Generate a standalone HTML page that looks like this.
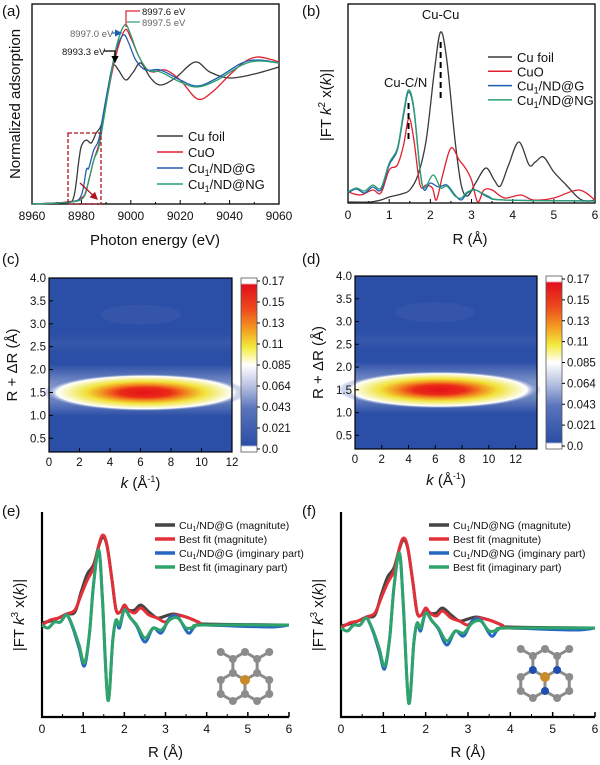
<!DOCTYPE html>
<html><head><meta charset="utf-8">
<style>
body{margin:0;background:#fff;}
svg{display:block;font-family:"Liberation Sans",Arial,sans-serif;}
</style></head><body>
<svg id="s" width="600" height="765" viewBox="0 0 600 765" xmlns="http://www.w3.org/2000/svg">
<defs>
<radialGradient id="hm" cx="0.5" cy="0.5" r="0.5">
<stop offset="0" stop-color="#e5101a"/>
<stop offset="0.25" stop-color="#ea2a18"/>
<stop offset="0.42" stop-color="#f29020"/>
<stop offset="0.58" stop-color="#f2e238"/>
<stop offset="0.74" stop-color="#f6f3a8"/>
<stop offset="0.86" stop-color="#ffffff"/>
<stop offset="1" stop-color="#2b4ea6" stop-opacity="0"/>
</radialGradient>
<linearGradient id="cb" x1="0" y1="0" x2="0" y2="1">
<stop offset="0" stop-color="#ffffff"/>
<stop offset="0.03" stop-color="#ffffff"/>
<stop offset="0.04" stop-color="#e0101c"/>
<stop offset="0.18" stop-color="#ee4a1c"/>
<stop offset="0.3" stop-color="#f3a020"/>
<stop offset="0.4" stop-color="#f4ec40"/>
<stop offset="0.5" stop-color="#ffffff"/>
<stop offset="0.62" stop-color="#b8c2e2"/>
<stop offset="0.75" stop-color="#5a74bc"/>
<stop offset="0.96" stop-color="#2b4ea6"/>
<stop offset="0.97" stop-color="#ffffff"/>
<stop offset="1" stop-color="#ffffff"/>
</linearGradient>
<linearGradient id="band" x1="0" y1="0" x2="0" y2="1">
<stop offset="0" stop-color="#ffffff" stop-opacity="0"/>
<stop offset="0.5" stop-color="#ffffff" stop-opacity="0.9"/>
<stop offset="1" stop-color="#ffffff" stop-opacity="0"/>
</linearGradient>
<marker id="ah" markerWidth="6" markerHeight="6" refX="5" refY="3" orient="auto"><path d="M0,0 L6,3 L0,6z" fill="#b01020"/></marker>
<marker id="ak" markerWidth="6" markerHeight="6" refX="5" refY="3" orient="auto"><path d="M0,0 L6,3 L0,6z" fill="#000"/></marker>
<marker id="ab" markerWidth="6" markerHeight="6" refX="5" refY="3" orient="auto"><path d="M0,0 L6,3 L0,6z" fill="#1f5fb0"/></marker>
</defs>
<g id="g"></g>
</svg>
<script>
var g=document.getElementById('g');var NS='http://www.w3.org/2000/svg';
function el(t,a,txt){var e=document.createElementNS(NS,t);for(var k in a)e.setAttribute(k,a[k]);if(txt!==undefined)e.textContent=txt;g.appendChild(e);return e;}
function cr(p){var d='M'+p[0][0].toFixed(1)+','+p[0][1].toFixed(1);for(var i=0;i<p.length-1;i++){var p0=p[i-1]||p[i],p1=p[i],p2=p[i+1],p3=p[i+2]||p2;var c1=[p1[0]+(p2[0]-p0[0])/6,p1[1]+(p2[1]-p0[1])/6],c2=[p2[0]-(p3[0]-p1[0])/6,p2[1]-(p3[1]-p1[1])/6];d+='C'+c1[0].toFixed(1)+','+c1[1].toFixed(1)+' '+c2[0].toFixed(1)+','+c2[1].toFixed(1)+' '+p2[0].toFixed(1)+','+p2[1].toFixed(1);}return d;}
function curve(pts,fx,dy,col,w){el('path',{d:cr(pts.map(function(q){return [fx(q[0]),q[1]+dy];})),fill:'none',stroke:col,'stroke-width':w,'stroke-linejoin':'round'});}
function txt(x,y,s,sz,anc,extra){var a={x:x,y:y,'font-size':sz,'text-anchor':anc||'start',fill:'#111'};for(var k in extra)a[k]=extra[k];var e=el('text',a);e.innerHTML=s;return e;}
var BK='#3a3a3a',RD='#e02030',BL='#1f5fb0',GR='#2aa070';
[['(a)',2,16],['(b)',302,16],['(c)',2,264],['(d)',302,264],['(e)',2,516],['(f)',302,516]].forEach(function(a){txt(a[1],a[2],a[0],15);});

// ===== (a)
var ax=function(e){return 32+(e-8960)*2.47;};
el('rect',{x:32,y:4,width:247,height:200,fill:'none',stroke:'#000','stroke-width':1.3});
for(var e=8960;e<=9060;e+=20){var x=ax(e);el('line',{x1:x,y1:204,x2:x,y2:200,stroke:'#000'});txt(x,220,e,12,'middle');}
for(var e=8970;e<9060;e+=20){var x=ax(e);el('line',{x1:x,y1:204,x2:x,y2:202,stroke:'#000'});}
txt(155,245,'Photon energy (eV)',15,'middle');
txt(0,0,'Normalized adsorption',15,'middle',{transform:'translate(20,104) rotate(-90)'});
curve([[8960,204],[8974,202],[8977,196],[8979,160],[8980,146],[8982,140],[8984,143],[8986,133],[8988,125],[8990,100],[8992,72],[8993.3,65],[8995,70],[8998,80],[9001,72],[9004,63],[9008,78],[9012,85],[9018,78],[9026,62],[9032,72],[9040,78],[9050,74],[9060,67]],ax,0,BK,1.3);
curve([[8960,204],[8975,202],[8980,198],[8982,190],[8985,160],[8987,145],[8989,118],[8991,90],[8994,55],[8997.6,30],[9000,38],[9003,55],[9006,68],[9009,72],[9014,70],[9020,80],[9027,99],[9033,92],[9040,75],[9046,62],[9051,57],[9056,59],[9060,62]],ax,0,RD,1.3);
curve([[8960,204],[8976,202],[8980,195],[8982,170],[8983,168],[8985,150],[8987,140],[8989,112],[8991,85],[8994,50],[8997,35],[8999,42],[9002,60],[9006,70],[9012,70],[9020,80],[9027,86],[9035,78],[9045,63],[9052,60],[9060,63]],ax,0,BL,1.3);
curve([[8960,204],[8976,202],[8981,197],[8983,180],[8985,160],[8987,148],[8989,120],[8991,90],[8994,48],[8997.5,25],[9000,35],[9003,55],[9007,70],[9012,72],[9020,82],[9027,87],[9035,80],[9045,65],[9052,61],[9060,63]],ax,0,GR,1.3);
el('rect',{x:68,y:133,width:33,height:71,fill:'none',stroke:'#b01020','stroke-width':1.3,'stroke-dasharray':'4,2'});
el('line',{x1:80,y1:183,x2:97,y2:199,stroke:'#b01020','stroke-width':1.3,'marker-end':'url(#ah)'});
el('polyline',{points:'126,27 126,11 140,11',fill:'none',stroke:RD,'stroke-width':1.2});
txt(142,15,'8997.6 eV',9.5);
el('line',{x1:127,y1:22,x2:140,y2:22,stroke:GR,'stroke-width':1.2});
txt(142,26,'8997.5 eV',9.5,'start',{fill:'#666'});
txt(70,37,'8997.0 eV',9.5,'start',{fill:'#666'});
el('line',{x1:112,y1:33,x2:121,y2:33,stroke:BL,'stroke-width':1.2,'marker-end':'url(#ab)'});
txt(62,55,'8993.3 eV',9.5);
el('polyline',{points:'104,51 115,51 115,62',fill:'none',stroke:'#000','stroke-width':1.2,'marker-end':'url(#ak)'});
[['Cu foil',BK],['CuO',RD],['Cu<tspan font-size="9" dy="3">1</tspan><tspan dy="-3">/ND@G</tspan>',BL],['Cu<tspan font-size="9" dy="3">1</tspan><tspan dy="-3">/ND@NG</tspan>',GR]].forEach(function(l,i){var y=136+i*16;el('line',{x1:157,y1:y,x2:183,y2:y,stroke:l[1],'stroke-width':1.5});txt(188,y+5,l[0],13);});

// ===== (b)
var bx=function(r){return 348+r*41.17;};
el('rect',{x:348,y:4,width:247,height:199,fill:'none',stroke:'#000','stroke-width':1.3});
for(var r=0;r<=6;r++){var x=bx(r);el('line',{x1:x,y1:203,x2:x,y2:199,stroke:'#000'});txt(x,219,r,12,'middle');}
for(var r=0.5;r<6;r++){var x=bx(r);el('line',{x1:x,y1:203,x2:x,y2:201,stroke:'#000'});}
txt(470,244,'R (Å)',15,'middle');
txt(0,0,'|FT <tspan font-style="italic">k</tspan><tspan font-size="10" dy="-6">2</tspan><tspan dy="6"> x(</tspan><tspan font-style="italic">k</tspan>)|',15,'middle',{transform:'translate(331,105) rotate(-90)'});
curve([[0,202],[0.5,202],[0.8,200],[1.0,197],[1.3,194],[1.5,190],[1.7,175],[1.9,140],[2.1,70],[2.25,32],[2.4,60],[2.6,140],[2.75,185],[2.9,196],[3.1,183],[3.35,168],[3.55,180],[3.7,186],[3.9,165],[4.15,142],[4.4,165],[4.55,162],[4.75,157],[5.0,172],[5.3,185],[5.6,198],[5.8,201],[6,200]],bx,0,BK,1.3);
curve([[0,192],[0.3,195],[0.6,190],[0.8,193],[1.0,170],[1.2,165],[1.35,145],[1.48,118],[1.6,140],[1.75,185],[1.9,185],[2.05,188],[2.15,200],[2.3,175],[2.5,148],[2.7,160],[2.85,168],[3.0,180],[3.15,202],[3.3,190],[3.5,190],[3.8,198],[4.2,195],[4.5,200],[5.0,198],[5.6,190],[6,200]],bx,0,RD,1.3);
curve([[0,193],[0.2,189],[0.4,193],[0.6,187],[0.8,190],[1.0,165],[1.2,150],[1.35,115],[1.47,92],[1.6,110],[1.75,170],[1.85,190],[2.0,183],[2.2,187],[2.4,185],[2.6,195],[2.75,200],[2.9,193],[3.1,190],[3.4,197],[3.8,200],[6,201]],bx,0,BL,1.3);
curve([[0,192],[0.2,188],[0.4,191],[0.6,185],[0.8,188],[1.0,163],[1.2,148],[1.35,112],[1.47,90],[1.6,108],[1.75,170],[1.85,188],[2.07,175],[2.25,188],[2.4,186],[2.6,196],[2.75,198],[2.9,192],[3.1,190],[3.4,196],[3.8,200],[6,201]],bx,0,GR,1.3);
el('line',{x1:bx(1.47),y1:103,x2:bx(1.47),y2:140,stroke:'#000','stroke-width':2,'stroke-dasharray':'6,4'});
el('line',{x1:bx(2.25),y1:42,x2:bx(2.25),y2:102,stroke:'#000','stroke-width':2,'stroke-dasharray':'6,4'});
txt(bx(2.25),19,'Cu-Cu',13,'middle');txt(bx(1.4),87,'Cu-C/N',13,'middle');
[['Cu foil',BK],['CuO',RD],['Cu<tspan font-size="9" dy="3">1</tspan><tspan dy="-3">/ND@G</tspan>',BL],['Cu<tspan font-size="9" dy="3">1</tspan><tspan dy="-3">/ND@NG</tspan>',GR]].forEach(function(l,i){var y=57+i*14.3;el('line',{x1:488,y1:y,x2:512,y2:y,stroke:l[1],'stroke-width':1.5});txt(517,y+5,l[0],13);});

// ===== heatmaps
function heat(x0,x1,y0,y1,kmax,kticks,cbx){
 var w=x1-x0,h=y1-y0;var ry=function(R){return y0+(4.0-R)*(h/3.8);};
 var kx=function(k){return x0+k*w/kmax;};
 el('rect',{x:x0,y:y0,width:w,height:h,fill:'#2b4ea6'});
 el('ellipse',{cx:kx(6),cy:ry(3.2),rx:40,ry:10,fill:'#5a72bc',opacity:0.2});
 el('rect',{x:x0,y:ry(2.8),width:w,height:20,fill:'url(#band)',opacity:0.06});
 el('rect',{x:x0,y:ry(1.55)-26,width:w,height:52,fill:'url(#band)',opacity:0.55});
 el('ellipse',{cx:kx(6.3),cy:ry(1.5),rx:w*0.56,ry:19,fill:'url(#hm)'});
 el('rect',{x:x0,y:y0,width:w,height:h,fill:'none',stroke:'#000','stroke-width':1.2});
 [4.0,3.5,3.0,2.5,2.0,1.5,1.0,0.5].forEach(function(R){var y=ry(R);el('line',{x1:x0,y1:y,x2:x0+4,y2:y,stroke:'#000'});txt(x0-3,y+4,R.toFixed(1),11.5,'end');});
 kticks.forEach(function(k){var x=kx(k);el('line',{x1:x,y1:y1,x2:x,y2:y1-4,stroke:'#000'});txt(x,y1+14,k,11.5,'middle');});
 txt((x0+x1)/2,y1+36,'<tspan font-style="italic">k</tspan> (Å<tspan font-size="9" dy="-6">-1</tspan><tspan dy="6">)</tspan>',15,'middle');
 txt(0,0,'R + ΔR (Å)',15,'middle',{transform:'translate('+(x0-32)+','+(y0+h/2)+') rotate(-90)'});
 el('rect',{x:cbx,y:y0,width:16,height:h,fill:'url(#cb)',stroke:'#555','stroke-width':0.8});
 ['0.17','0.15','0.13','0.11','0.085','0.064','0.043','0.021','0.0'].forEach(function(s,i){var y=y0+3+i*(h-6)/8;el('line',{x1:cbx+16,y1:y,x2:cbx+19,y2:y,stroke:'#000'});txt(cbx+21,y+4,s,11.5);});
}
heat(49,232,278,452,12,[0,2,4,6,8,10,12],241);
heat(355,537,276,449,13.6,[0,2,4,6,8,10,12],546);

// ===== (e)/(f)
function molecule(cx,cy,nit){var b=14,s=b*0.866;
 var A=[0,0],B1=[-s,-b/2],B2=[s,-b/2],B3=[0,b],C1=[-2*s,0],C2=[-s,-1.5*b],C3=[2*s,0],C4=[s,-1.5*b],C5=[-s,1.5*b],C6=[s,1.5*b],D1=[-2*s,b],D2=[2*s,b],E1=[0,-2*b],M1=[-2*s,-2*b],M2=[2*s,-2*b];
 var bonds=[[A,B1],[A,B2],[A,B3],[B1,C1],[B1,C2],[B2,C3],[B2,C4],[B3,C5],[B3,C6],[C1,D1],[D1,C5],[C3,D2],[D2,C6],[C2,E1],[E1,C4],[C2,M1],[C4,M2]];
 bonds.forEach(function(q){el('line',{x1:cx+q[0][0],y1:cy+q[0][1],x2:cx+q[1][0],y2:cy+q[1][1],stroke:'#8a8a8a','stroke-width':3});});
 [C1,C2,C3,C4,C5,C6,D1,D2,E1,M1,M2].forEach(function(p){el('circle',{cx:cx+p[0],cy:cy+p[1],r:4,fill:'#8c8c8c'});});
 [B1,B2,B3].forEach(function(p){el('circle',{cx:cx+p[0],cy:cy+p[1],r:4,fill:nit?'#1f4fb0':'#8c8c8c'});});
 el('circle',{cx:cx,cy:cy,r:5,fill:'#c98a2a'});
}
function fitpanel(x0,x1,zero,name,lx,fs){
 var fx=function(r){return x0+r*(x1-x0)/6;};var dy=zero-625;
 el('polyline',{points:x0+',512 '+x0+',717 '+x1+',717',fill:'none',stroke:'#000','stroke-width':2.2});
 for(var r=0;r<=6;r++){var x=fx(r);el('line',{x1:x,y1:717,x2:x,y2:712,stroke:'#000','stroke-width':1.5});txt(x,733,r,12,'middle');}
 for(var r=0.5;r<6;r++){var x=fx(r);el('line',{x1:x,y1:717,x2:x,y2:714,stroke:'#000'});}
 txt((x0+x1)/2,757,'R (Å)',15,'middle');
 txt(0,0,'|FT <tspan font-style="italic">k</tspan><tspan font-size="10" dy="-6">3</tspan><tspan dy="6"> x(</tspan><tspan font-style="italic">k</tspan>)|',15,'middle',{transform:'translate('+(x0-18)+',615) rotate(-90)'});
 var mag=[[0,625],[0.2,620],[0.4,618],[0.6,614],[0.8,610],[0.95,595],[1.1,580],[1.25,568],[1.38,545],[1.48,535],[1.58,545],[1.7,580],[1.8,610],[1.9,612],[2.0,605],[2.1,610],[2.25,613],[2.4,608],[2.6,615],[2.8,618],[3.0,622],[3.2,615],[3.5,617],[3.8,622],[4,625],[6,625]];
 var magD=[[0,623],[0.2,621],[0.4,618],[0.6,614],[0.8,612],[0.95,592],[1.1,574],[1.25,565],[1.38,546],[1.48,537],[1.58,546],[1.7,580],[1.8,610],[1.9,612],[2.0,606],[2.1,610],[2.25,610],[2.4,605],[2.6,612],[2.8,618],[3.0,616],[3.2,614],[3.5,617],[3.8,622],[4,624],[6,625]];
 var im=[[0,625],[0.15,628],[0.3,622],[0.45,622],[0.6,615],[0.75,627],[0.9,645],[1.03,663],[1.15,635],[1.25,585],[1.38,550],[1.47,600],[1.6,700],[1.72,640],[1.8,620],[1.88,625],[2.0,610],[2.15,618],[2.3,625],[2.5,638],[2.7,628],[2.9,630],[3.1,620],[3.3,618],[3.5,628],[3.7,627],[3.9,625],[6,625]];
 var imD=[[0,625],[0.15,628],[0.3,622],[0.45,622],[0.6,615],[0.75,628],[0.9,648],[1.03,666],[1.15,635],[1.25,585],[1.38,550],[1.47,600],[1.6,700],[1.72,640],[1.8,620],[1.88,628],[2.0,610],[2.15,618],[2.3,626],[2.5,642],[2.7,628],[2.9,633],[3.1,618],[3.3,617],[3.55,633],[3.7,627],[3.9,625],[5.5,627],[6,625]];
 curve(magD,fx,dy,'#444',3);curve(mag,fx,dy,'#e33038',3);curve(imD,fx,dy,'#2468c0',3);curve(im,fx,dy,'#2fa46a',3);
 [[name+' (magnitute)','#444'],['Best fit (magnitute)','#e33038'],[name+' (imginary part)','#2468c0'],['Best fit (imaginary part)','#2fa46a']].forEach(function(l,i){var y=525+i*14;el('line',{x1:lx,y1:y,x2:lx+20,y2:y,stroke:l[1],'stroke-width':3.5});txt(lx+24,y+4,l[0],fs);});
}
fitpanel(42,289,625,'Cu<tspan font-size="7" dy="2">1</tspan><tspan dy="-2">/ND@G</tspan>',155,10.5);
fitpanel(341,595,628,'Cu<tspan font-size="7" dy="2">1</tspan><tspan dy="-2">/ND@NG</tspan>',429,10.5);
molecule(245,680,false);
molecule(545,677,true);
</script>
</body></html>
